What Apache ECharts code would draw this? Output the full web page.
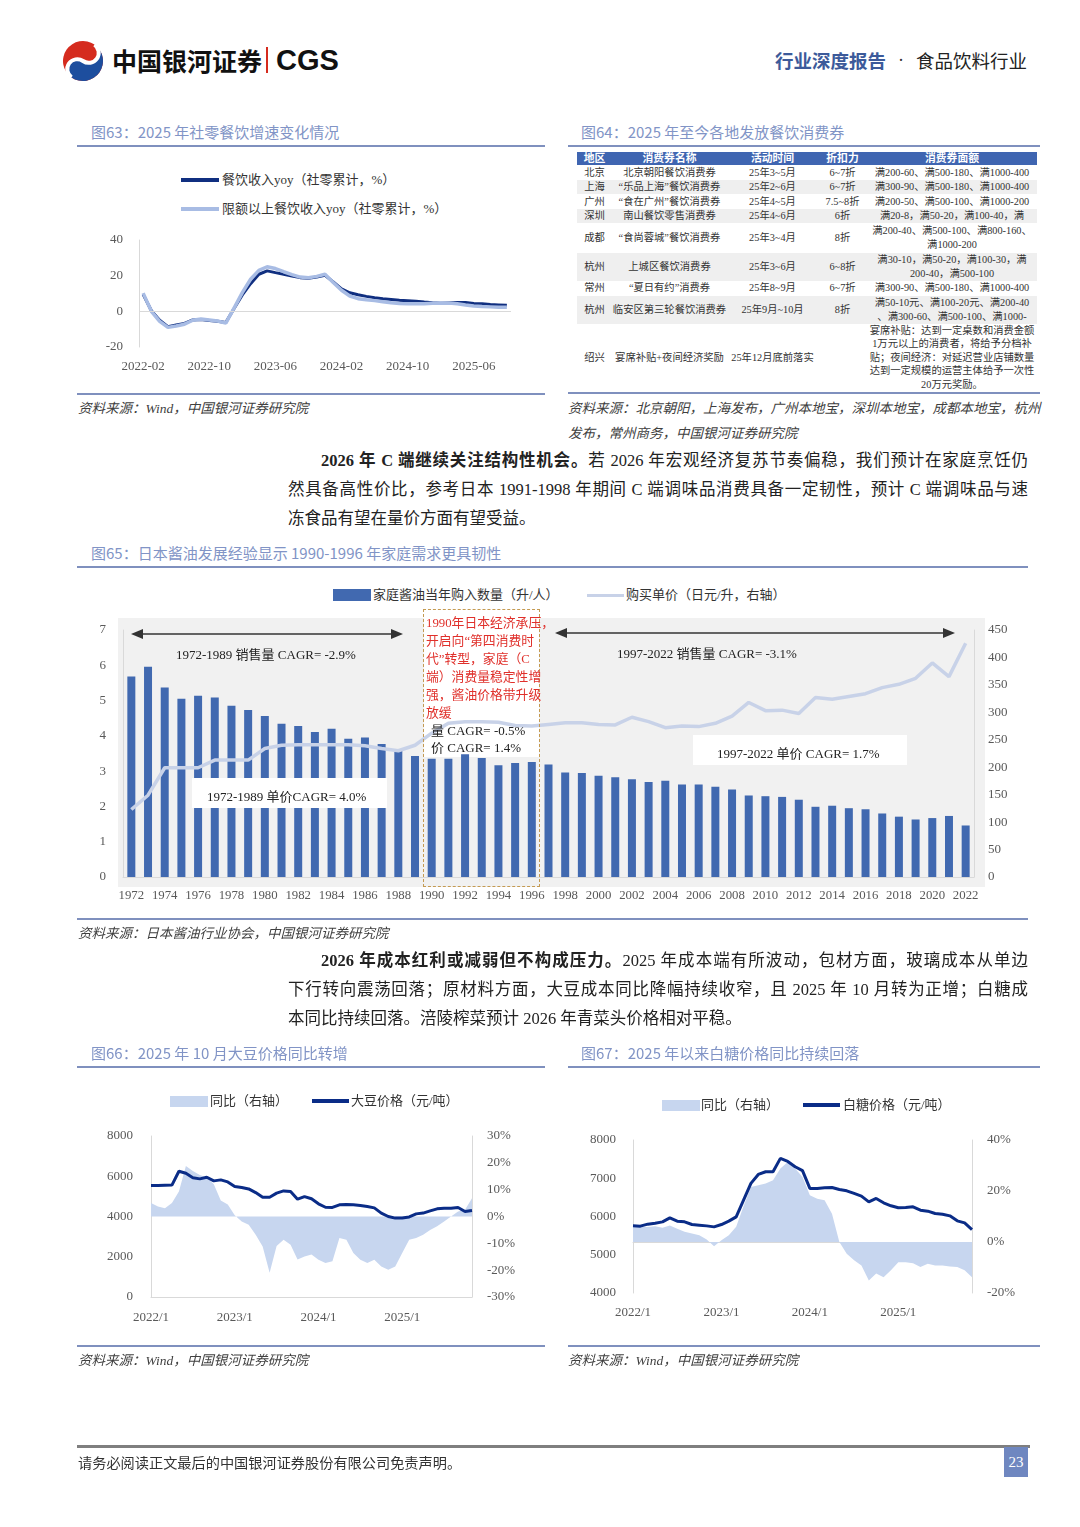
<!DOCTYPE html>
<html><head><meta charset="utf-8">
<script src="https://cdn.jsdelivr.net/npm/echarts@6/dist/echarts.min.js"></script>
<style>
body{margin:0;background:#fff;}
#page{position:relative;width:1080px;height:1527px;overflow:hidden;font-family:"Liberation Serif","Noto Sans CJK SC",serif;color:#222;}
.abs{position:absolute;white-space:nowrap;}
.title{position:absolute;white-space:nowrap;font-family:"Noto Sans CJK SC",sans-serif;font-size:15px;color:#8194C6;line-height:20px;}
.hr{position:absolute;height:2px;background:#7F90BE;}
.src{position:absolute;white-space:nowrap;font-style:italic;font-size:13.5px;color:#404040;line-height:18px;}
.para{position:absolute;white-space:nowrap;font-size:16.5px;line-height:22px;color:#222;text-align:justify;text-align-last:justify;}
.chart{position:absolute;}
.leg{position:absolute;white-space:nowrap;font-size:13px;color:#333;line-height:16px;}
.ico{position:absolute;}
.ann{position:absolute;white-space:nowrap;font-size:13px;color:#222;line-height:18px;}
.red{position:absolute;white-space:nowrap;font-size:12.8px;color:#E0302B;line-height:18px;}
table.t64{position:absolute;left:577px;top:152px;width:460px;border-collapse:collapse;table-layout:fixed;font-size:10.3px;color:#333;}
table.t64 td{padding:0;text-align:center;vertical-align:middle;line-height:13.5px;white-space:nowrap;overflow:visible;}
table.t64 tr.h td{background:#3F65B1;color:#fff;font-weight:bold;font-size:10.8px;line-height:13px;}
table.t64 tr.g td{background:#EFEFEF;}
</style></head>
<body><div id="page">

<!-- header -->
<svg class="abs" style="left:61px;top:40px" width="44" height="42" viewBox="0 0 44 42">
 <g transform="rotate(35 22 21)">
  <circle cx="22" cy="21" r="20" fill="#D52B1E"/>
  <path d="M22,1 A20,20 0 0 1 22,41 A10,10 0 0 1 22,21 A10,10 0 0 0 22,1 Z" fill="#1D4E9E"/>
  <path d="M22,1 A10,10 0 0 1 22,21 A10,10 0 0 0 22,41" stroke="#fff" stroke-width="4" fill="none"/>
 </g>
</svg>
<div class="abs" style="left:112px;top:44px;font-family:'Noto Sans CJK SC';font-weight:700;font-size:25px;line-height:32px;color:#111;">中国银河证券</div>
<div class="abs" style="left:266px;top:47px;width:2px;height:26px;background:#D52B1E;"></div>
<div class="abs" style="left:276px;top:42px;font-family:'Liberation Sans';font-weight:700;font-size:29px;line-height:36px;color:#111;">CGS</div>
<div class="abs" style="left:775px;top:48px;font-family:'Noto Sans CJK SC';font-weight:700;font-size:18.5px;line-height:24px;color:#3C5A9A;">行业深度报告</div>
<div class="abs" style="left:898px;top:48px;font-size:18px;line-height:24px;color:#333;">·</div>
<div class="abs" style="left:916px;top:48px;font-family:'Noto Sans CJK SC';font-size:18.5px;line-height:24px;color:#222;">食品饮料行业</div>

<!-- fig63 -->
<div class="title" style="left:91px;top:122px;">图63：2025 年社零餐饮增速变化情况</div>
<div class="hr" style="left:77px;top:145px;width:468px;"></div>
<div class="ico" style="left:181px;top:178px;width:38px;height:4px;background:#102F80;"></div>
<div class="leg" style="left:222px;top:172px;">餐饮收入yoy（社零累计，%）</div>
<div class="ico" style="left:181px;top:207px;width:38px;height:4px;background:#A8BCE4;"></div>
<div class="leg" style="left:222px;top:201px;">限额以上餐饮收入yoy（社零累计，%）</div>
<div id="c63" class="chart" style="left:77px;top:150px;width:468px;height:240px;"></div>
<div class="hr" style="left:77px;top:393px;width:468px;"></div>
<div class="src" style="left:78px;top:400px;">资料来源：Wind，中国银河证券研究院</div>

<!-- fig64 -->
<div class="title" style="left:581px;top:122px;">图64：2025 年至今各地发放餐饮消费券</div>
<div class="hr" style="left:568px;top:145px;width:472px;"></div>
<table class="t64" id="t64"></table>
<div class="hr" style="left:568px;top:392px;width:472px;"></div>
<div class="src" style="left:568px;top:400px;">资料来源：北京朝阳，上海发布，广州本地宝，深圳本地宝，成都本地宝，杭州</div>
<div class="src" style="left:568px;top:425px;">发布，常州商务，中国银河证券研究院</div>

<!-- paragraph 1 -->
<div class="para" style="left:321px;top:450px;width:707px;"><b>2026 年 C 端继续关注结构性机会。</b>若 2026 年宏观经济复苏节奏偏稳，我们预计在家庭烹饪仍</div>
<div class="para" style="left:288px;top:479px;width:740px;">然具备高性价比，参考日本 1991-1998 年期间 C 端调味品消费具备一定韧性，预计 C 端调味品与速</div>
<div class="para" style="left:288px;top:508px;width:740px;text-align:left;text-align-last:left;">冻食品有望在量价方面有望受益。</div>

<!-- fig65 -->
<div class="title" style="left:91px;top:543px;">图65：日本酱油发展经验显示 1990-1996 年家庭需求更具韧性</div>
<div class="hr" style="left:77px;top:566px;width:951px;"></div>
<div class="ico" style="left:333px;top:589px;width:38px;height:12px;background:#4169B0;"></div>
<div class="leg" style="left:373px;top:587px;">家庭酱油当年购入数量（升/人）</div>
<div class="ico" style="left:587px;top:594px;width:37px;height:3px;background:#C8D2E8;"></div>
<div class="leg" style="left:626px;top:587px;">购买单价（日元/升，右轴）</div>
<div class="abs" style="left:118px;top:618px;width:867px;height:269px;background:#F1F1F1;"></div>
<div class="abs" style="left:424px;top:610px;width:115px;height:147px;background:#fff;"></div>
<div id="c65" class="chart" style="left:77px;top:575px;width:951px;height:340px;"></div>
<svg class="abs" style="left:0;top:0;pointer-events:none" width="1080" height="1527">
 <line x1="142" y1="634" x2="392" y2="634" stroke="#333" stroke-width="1.6"/>
 <polygon points="131,634 143,629 143,639" fill="#333"/>
 <polygon points="403,634 391,629 391,639" fill="#333"/>
 <line x1="566" y1="633" x2="944" y2="633" stroke="#333" stroke-width="1.6"/>
 <polygon points="555,633 567,628 567,638" fill="#333"/>
 <polygon points="955,633 943,628 943,638" fill="#333"/>
</svg>
<div class="ann" style="left:176px;top:646px;">1972-1989 销售量 CAGR= -2.9%</div>
<div class="abs" style="left:192px;top:778px;width:195px;height:30px;background:#fff;"></div>
<div class="ann" style="left:207px;top:788px;">1972-1989 单价CAGR= 4.0%</div>
<div class="ann" style="left:617px;top:645px;">1997-2022 销售量 CAGR= -3.1%</div>
<div class="abs" style="left:693px;top:735px;width:214px;height:30px;background:#fff;"></div>
<div class="ann" style="left:717px;top:745px;">1997-2022 单价 CAGR= 1.7%</div>
<div class="abs" style="left:423px;top:609px;width:115px;height:276px;border:1.5px dashed #C49A52;"></div>
<div class="red" style="left:426px;top:614px;">1990年日本经济承压，<br>开启向“第四消费时<br>代”转型，家庭（C<br>端）消费量稳定性增<br>强，酱油价格带升级<br>放缓</div>
<div class="ann" style="left:431px;top:722px;">量 CAGR= -0.5%</div>
<div class="ann" style="left:431px;top:739px;">价 CAGR= 1.4%</div>
<div class="hr" style="left:77px;top:918px;width:951px;"></div>
<div class="src" style="left:78px;top:925px;">资料来源：日本酱油行业协会，中国银河证券研究院</div>

<!-- paragraph 2 -->
<div class="para" style="left:321px;top:950px;width:707px;"><b>2026 年成本红利或减弱但不构成压力。</b>2025 年成本端有所波动，包材方面，玻璃成本从单边</div>
<div class="para" style="left:288px;top:979px;width:740px;">下行转向震荡回落；原材料方面，大豆成本同比降幅持续收窄，且 2025 年 10 月转为正增；白糖成</div>
<div class="para" style="left:288px;top:1008px;width:740px;text-align:left;text-align-last:left;">本同比持续回落。涪陵榨菜预计 2026 年青菜头价格相对平稳。</div>

<!-- fig66 -->
<div class="title" style="left:91px;top:1043px;">图66：2025 年 10 月大豆价格同比转增</div>
<div class="hr" style="left:77px;top:1066px;width:468px;"></div>
<div class="ico" style="left:170px;top:1096px;width:38px;height:11px;background:#C7D6EF;"></div>
<div class="leg" style="left:210px;top:1093px;">同比（右轴）</div>
<div class="ico" style="left:312px;top:1099px;width:37px;height:4px;background:#0A2C87;"></div>
<div class="leg" style="left:351px;top:1093px;">大豆价格（元/吨）</div>
<div id="c66" class="chart" style="left:77px;top:1075px;width:468px;height:265px;"></div>
<div class="hr" style="left:77px;top:1345px;width:468px;"></div>
<div class="src" style="left:78px;top:1352px;">资料来源：Wind，中国银河证券研究院</div>

<!-- fig67 -->
<div class="title" style="left:581px;top:1043px;">图67：2025 年以来白糖价格同比持续回落</div>
<div class="hr" style="left:568px;top:1066px;width:472px;"></div>
<div class="ico" style="left:662px;top:1100px;width:38px;height:11px;background:#C7D6EF;"></div>
<div class="leg" style="left:701px;top:1097px;">同比（右轴）</div>
<div class="ico" style="left:803px;top:1103px;width:37px;height:4px;background:#0A2C87;"></div>
<div class="leg" style="left:843px;top:1097px;">白糖价格（元/吨）</div>
<div id="c67" class="chart" style="left:568px;top:1075px;width:472px;height:265px;"></div>
<div class="hr" style="left:568px;top:1345px;width:472px;"></div>
<div class="src" style="left:568px;top:1352px;">资料来源：Wind，中国银河证券研究院</div>

<!-- footer -->
<div class="abs" style="left:77px;top:1445px;width:953px;height:3px;background:#7F7F7F;"></div>
<div class="abs" style="left:78px;top:1452px;font-family:'Noto Sans CJK SC';font-size:14.2px;line-height:20px;color:#333;">请务必阅读正文最后的中国银河证券股份有限公司免责声明。</div>
<div class="abs" style="left:1004px;top:1447px;width:24px;height:30px;background:#6F87C0;color:#fff;font-size:15px;line-height:30px;text-align:center;">23</div>

</div>
<script>
// ---------- Fig63 data ----------
const months63 = ['2022-02','2022-03','2022-04','2022-05','2022-06','2022-07','2022-08','2022-09','2022-10','2022-11','2022-12',
 '2023-01','2023-02','2023-03','2023-04','2023-05','2023-06','2023-07','2023-08','2023-09','2023-10','2023-11','2023-12',
 '2024-01','2024-02','2024-03','2024-04','2024-05','2024-06','2024-07','2024-08','2024-09','2024-10','2024-11','2024-12',
 '2025-01','2025-02','2025-03','2025-04','2025-05','2025-06','2025-07','2025-08','2025-09','2025-10'];
const yoyCatering = [9.5,0.3,-5.0,-8.6,-7.7,-6.8,-4.8,-4.6,-5.2,-5.6,-6.3,
 1.6,9.2,15.5,20.8,22.7,21.7,20.8,19.8,18.9,18.6,19.3,20.2,
 16.5,12.6,10.4,9.3,8.4,7.6,7.0,6.6,6.2,6.0,5.7,5.2,
 4.8,4.5,4.7,4.9,5.0,4.4,4.2,3.8,3.6,3.4];
const yoyAboveQuota = [10.2,0.0,-5.6,-9.0,-8.2,-7.2,-5.0,-4.3,-4.8,-5.4,-6.6,
 1.8,10.5,18.0,23.0,25.0,24.0,22.2,20.6,19.2,18.8,19.6,20.8,
 16.2,11.8,8.6,7.1,6.5,6.0,5.4,4.8,4.4,4.2,4.2,4.3,
 4.5,4.7,4.6,4.2,3.5,3.0,2.7,2.5,2.3,2.3];

// ---------- Fig64 table data ----------
const t64Head = ['地区','消费券名称','活动时间','折扣力','消费券面额'];
const t64Region = ['北京','上海','广州','深圳','成都','杭州','常州','杭州','绍兴'];
const t64Name = ['北京朝阳餐饮消费券','“乐品上海”餐饮消费券','“食在广州”餐饮消费券','南山餐饮零售消费券','“食尚蓉城”餐饮消费券','上城区餐饮消费券','“夏日有约”消费券','临安区第三轮餐饮消费券','宴席补贴+夜间经济奖励'];
const t64Time = ['25年3~5月','25年2~6月','25年4~5月','25年4~6月','25年3~4月','25年3~6月','25年8~9月','25年9月~10月','25年12月底前落实'];
const t64Disc = ['6~7折','6~7折','7.5~8折','6折','8折','6~8折','6~7折','8折',''];
const t64Face = [
 ['满200-60、满500-180、满1000-400'],
 ['满300-90、满500-180、满1000-400'],
 ['满200-50、满500-100、满1000-200'],
 ['满20-8，满50-20，满100-40，满'],
 ['满200-40、满500-100、满800-160、','满1000-200'],
 ['满30-10，满50-20，满100-30，满','200-40，满500-100'],
 ['满300-90、满500-180、满1000-400'],
 ['满50-10元、满100-20元、满200-40','、满300-60、满500-100、满1000-'],
 ['宴席补贴：达到一定桌数和消费金额','1万元以上的消费者，将给予分档补','贴；夜间经济：对延迟营业店铺数量','达到一定规模的运营主体给予一次性','20万元奖励。']
];

// ---------- Fig65 data ----------
const years65 = ['1972','1973','1974','1975','1976','1977','1978','1979','1980','1981','1982','1983','1984','1985','1986','1987','1988','1989',
 '1990','1991','1992','1993','1994','1995','1996','1997','1998','1999','2000','2001','2002','2003','2004','2005','2006','2007','2008','2009',
 '2010','2011','2012','2013','2014','2015','2016','2017','2018','2019','2020','2021','2022'];
const soyVolume = [5.68,5.96,5.37,5.05,5.14,5.09,4.85,4.73,4.56,4.34,4.28,4.11,4.20,3.92,3.95,3.77,3.61,3.43,
 3.35,3.35,3.48,3.37,3.17,3.23,3.26,3.19,2.96,2.95,2.87,2.83,2.77,2.69,2.73,2.62,2.62,2.56,2.48,2.31,
 2.29,2.27,2.19,1.99,2.02,1.95,1.92,1.80,1.71,1.63,1.67,1.73,1.46];
const soyPrice = [123,149,199,199,199,213,213,213,234,240,241,241,241,241,239,234,230,240,
 262,280,283,283,282,276,275,278,281,281,278,277,291,283,272,275,274,280,293,318,
 303,304,298,327,324,329,334,345,351,362,390,365,426];

// ---------- Fig66 / Fig67 data ----------
const months = ['2022/1','2022/2','2022/3','2022/4','2022/5','2022/6','2022/7','2022/8','2022/9','2022/10','2022/11','2022/12',
 '2023/1','2023/2','2023/3','2023/4','2023/5','2023/6','2023/7','2023/8','2023/9','2023/10','2023/11','2023/12',
 '2024/1','2024/2','2024/3','2024/4','2024/5','2024/6','2024/7','2024/8','2024/9','2024/10','2024/11','2024/12',
 '2025/1','2025/2','2025/3','2025/4','2025/5','2025/6','2025/7','2025/8','2025/9','2025/10','2025/11'];
const soybeanPrice = [5540,5540,5555,5560,6250,6150,5930,5870,5950,5770,5820,5720,
 5490,5440,5370,5190,4960,4960,5160,5270,5240,4860,4990,4880,
 4630,4460,4450,4580,4600,4580,4550,4500,4430,4170,4000,3920,
 3930,3980,4130,4170,4280,4380,4410,4410,4450,4250,4300];
const soybeanYoy = [5.0,3.7,3.1,5.0,9.3,18.8,17.0,15.5,14.5,12.0,6.0,4.5,
 0.5,-1.9,-3.1,-6.8,-11.2,-21.0,-11.0,-8.7,-10.5,-16.0,-14.9,-14.2,
 -16.1,-17.3,-16.7,-8.0,-8.7,-13.6,-16.1,-17.3,-16.1,-18.6,-19.8,-18.6,
 -13.6,-8.7,-8.0,-6.8,-5.0,-3.6,-1.9,0.0,1.9,2.5,6.8];
const sugarPrice = [5755,5747,5800,5825,5860,5965,5878,5860,5790,5773,5755,5729,
 5790,5878,5991,6428,6865,7100,7170,7170,7520,7440,7300,7200,
 6734,6734,6751,6760,6707,6672,6603,6533,6384,6472,6358,6280,
 6227,6236,6253,6166,6140,6079,6061,6017,5886,5834,5659];
const sugarYoy = [5.9,5.9,5.9,6.2,5.6,6.5,5.2,4.0,3.3,2.6,1.0,-1.7,
 0.7,2.6,6.0,14.0,21.6,22.3,22.9,24.2,28.8,31.4,28.8,25.5,
 18.3,17.0,16.4,11.1,0.0,-4.6,-7.2,-9.2,-15.1,-12.4,-13.8,-11.1,
 -7.9,-7.9,-8.3,-9.8,-8.5,-9.2,-9.2,-9.6,-9.8,-11.1,-13.8];

// ---------- build table ----------
(function(){
 const rowH = [14.5,14.5,14.5,14,30.5,27.5,15,28,67];
 const widths = [35,115,91,49,170];
 let html = '<colgroup>' + widths.map(w=>'<col style="width:'+w+'px">').join('') + '</colgroup>';
 html += '<tr class="h" style="height:13px">' + t64Head.map(h=>'<td>'+h+'</td>').join('') + '</tr>';
 for (let i=0;i<t64Region.length;i++){
  html += '<tr class="'+(i%2===1?'g':'')+'" style="height:'+rowH[i]+'px">'
   + '<td>'+t64Region[i]+'</td><td>'+t64Name[i]+'</td><td>'+t64Time[i]+'</td><td>'+t64Disc[i]+'</td><td>'+t64Face[i].join('<br>')+'</td></tr>';
 }
 document.getElementById('t64').innerHTML = html;
})();

const lab = {fontFamily:'Liberation Serif', fontSize:13, color:'#595959'};
const axisGray = {color:'#D9D9D9', width:1};
const plain = v => String(v);

// ---------- Fig63 ----------
echarts.init(document.getElementById('c63')).setOption({
 animation:false,
 grid:{left:62,right:34,top:90,bottom:43},
 xAxis:{type:'category',data:months63,boundaryGap:true,axisLine:{show:false},axisTick:{show:false},
  axisLabel:Object.assign({interval:7,margin:13},lab)},
 yAxis:{type:'value',min:-20,max:40,interval:20,axisLine:{show:true,lineStyle:axisGray},axisTick:{show:false},
  splitLine:{show:false},axisLabel:Object.assign({margin:16,formatter:plain},lab)},
 series:[
  {type:'line',data:yoyCatering,symbol:'none',lineStyle:{color:'#102F80',width:3},
   markLine:{silent:true,symbol:'none',label:{show:false},lineStyle:{color:'#D9D9D9',type:'solid',width:1},data:[{yAxis:0}]}},
  {type:'line',data:yoyAboveQuota,symbol:'none',lineStyle:{color:'#A8BCE4',width:3.5}}
 ]
});

// ---------- Fig65 ----------
echarts.init(document.getElementById('c65')).setOption({
 animation:false,
 grid:{left:46,right:54,top:55,bottom:38},
 xAxis:{type:'category',data:years65,boundaryGap:true,axisLine:{show:true,lineStyle:axisGray},axisTick:{show:false},
  axisLabel:Object.assign({interval:1,margin:12},lab,{fontSize:12.8})},
 yAxis:[
  {type:'value',min:0,max:7,interval:1,axisLine:{show:true,lineStyle:axisGray},axisTick:{show:false},splitLine:{show:false},
   axisLabel:Object.assign({margin:17,formatter:plain},lab)},
  {type:'value',min:0,max:450,interval:50,position:'right',axisLine:{show:true,lineStyle:axisGray},axisTick:{show:false},splitLine:{show:false},
   axisLabel:Object.assign({margin:14,formatter:plain},lab)}
 ],
 series:[
  {type:'bar',data:soyVolume,barWidth:8,itemStyle:{color:'#4169B0'}},
  {type:'line',yAxisIndex:1,data:soyPrice,symbol:'none',lineStyle:{color:'#C8D2E8',width:3.5},z:3}
 ]
});

// ---------- Fig66 ----------
echarts.init(document.getElementById('c66')).setOption({
 animation:false,
 grid:{left:74,right:73,top:61,bottom:43},
 xAxis:{type:'category',data:months,boundaryGap:false,axisLine:{show:true,lineStyle:axisGray},axisTick:{show:false},
  axisLabel:Object.assign({interval:11,margin:14},lab)},
 yAxis:[
  {type:'value',min:0,max:8000,interval:2000,axisLine:{show:true,lineStyle:axisGray},axisTick:{show:false},splitLine:{show:false},
   axisLabel:Object.assign({margin:18,formatter:plain},lab)},
  {type:'value',min:-30,max:30,interval:10,position:'right',axisLine:{show:true,lineStyle:axisGray},axisTick:{show:false},splitLine:{show:false},
   axisLabel:Object.assign({margin:15,formatter:'{value}%'},lab)}
 ],
 series:[
  {type:'line',yAxisIndex:1,data:soybeanYoy,symbol:'none',lineStyle:{width:0},areaStyle:{color:'#C7D6EF',opacity:1},z:1},
  {type:'line',yAxisIndex:0,data:soybeanPrice,symbol:'none',lineStyle:{color:'#0A2C87',width:3},z:3}
 ]
});

// ---------- Fig67 ----------
echarts.init(document.getElementById('c67')).setOption({
 animation:false,
 grid:{left:65,right:68,top:65,bottom:47},
 xAxis:{type:'category',data:months,boundaryGap:false,axisLine:{show:true,lineStyle:axisGray},axisTick:{show:false},
  axisLabel:Object.assign({interval:11,margin:13},lab)},
 yAxis:[
  {type:'value',min:4000,max:8000,interval:1000,axisLine:{show:true,lineStyle:axisGray},axisTick:{show:false},splitLine:{show:false},
   axisLabel:Object.assign({margin:17,formatter:plain},lab)},
  {type:'value',min:-20,max:40,interval:20,position:'right',axisLine:{show:true,lineStyle:axisGray},axisTick:{show:false},splitLine:{show:false},
   axisLabel:Object.assign({margin:15,formatter:'{value}%'},lab)}
 ],
 series:[
  {type:'line',yAxisIndex:1,data:sugarYoy,symbol:'none',lineStyle:{width:0},areaStyle:{color:'#C7D6EF',opacity:1},z:1},
  {type:'line',yAxisIndex:0,data:sugarPrice,symbol:'none',lineStyle:{color:'#0A2C87',width:3},z:3}
 ]
});
</script>
</body></html>
